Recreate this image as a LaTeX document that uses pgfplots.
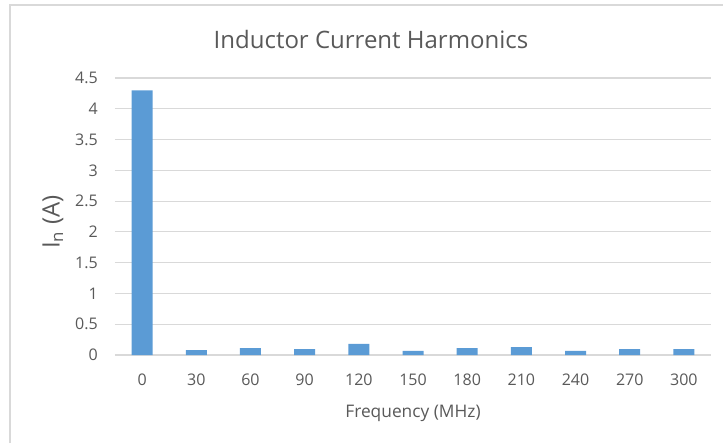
\documentclass[border=0pt]{standalone}
\usepackage{fontspec}
\setmainfont{Open Sans}
\usepackage{pgfplots}
\pgfplotsset{compat=1.18}
\definecolor{barblue}{HTML}{5B9BD5}
\definecolor{gridgray}{HTML}{D9D9D9}
\definecolor{txtgray}{HTML}{595959}

\begin{document}
\begin{tikzpicture}
% 1px = 0.75pt, axis origin at the lower left of the plot area
\useasboundingbox (-86.25pt,-66pt) rectangle (456pt,266.25pt);
\draw[gridgray, line width=1.5pt] (-78.75pt,-66pt) -- (-78.75pt,262.5pt) -- (456pt,262.5pt);
\begin{axis}[
  at={(0,0)}, anchor=south west,
  scale only axis,
  width=447pt, height=207.75pt,
  ybar, bar width=15.75pt, bar shift=0pt,
  xmin=-15, xmax=315,
  ymin=0, ymax=4.5,
  xtick=data,
  ytick={0,0.5,...,4.5},
  ymajorgrids,
  grid style={gridgray, line width=0.9pt},
  axis line style={draw=none},
  major tick length=0pt,
  /pgf/number format/assume math mode=true,
  ticklabel style={font=\fontsize{12}{14}\selectfont, text=txtgray},
  xticklabel style={anchor=base, yshift=-22.5pt},
  yticklabel style={anchor=east, inner sep=0pt, xshift=-12.75pt},
  every axis title shift=0pt,
  title={Inductor Current Harmonics},
  title style={font=\fontsize{18}{21}\selectfont, text=txtgray, at={(rel axis cs:0.4295,1.105)}, anchor=base},
  xlabel={Frequency (MHz)},
  xlabel style={font=\fontsize{13}{15}\selectfont, text=txtgray, at={(rel axis cs:0.5,-0.224)}, anchor=base},
  ylabel={I\textsubscript{n} (A)},
  ylabel style={font=\fontsize{18}{21}\selectfont, text=txtgray, at={(rel axis cs:-0.104,0.48)}, anchor=center},
]
\addplot[fill=barblue, draw=none] coordinates {
  (0,4.30) (30,0.08) (60,0.11) (90,0.095) (120,0.18) (150,0.067)
  (180,0.11) (210,0.13) (240,0.067) (270,0.095) (300,0.095)
};
\end{axis}
\end{tikzpicture}
\end{document}
